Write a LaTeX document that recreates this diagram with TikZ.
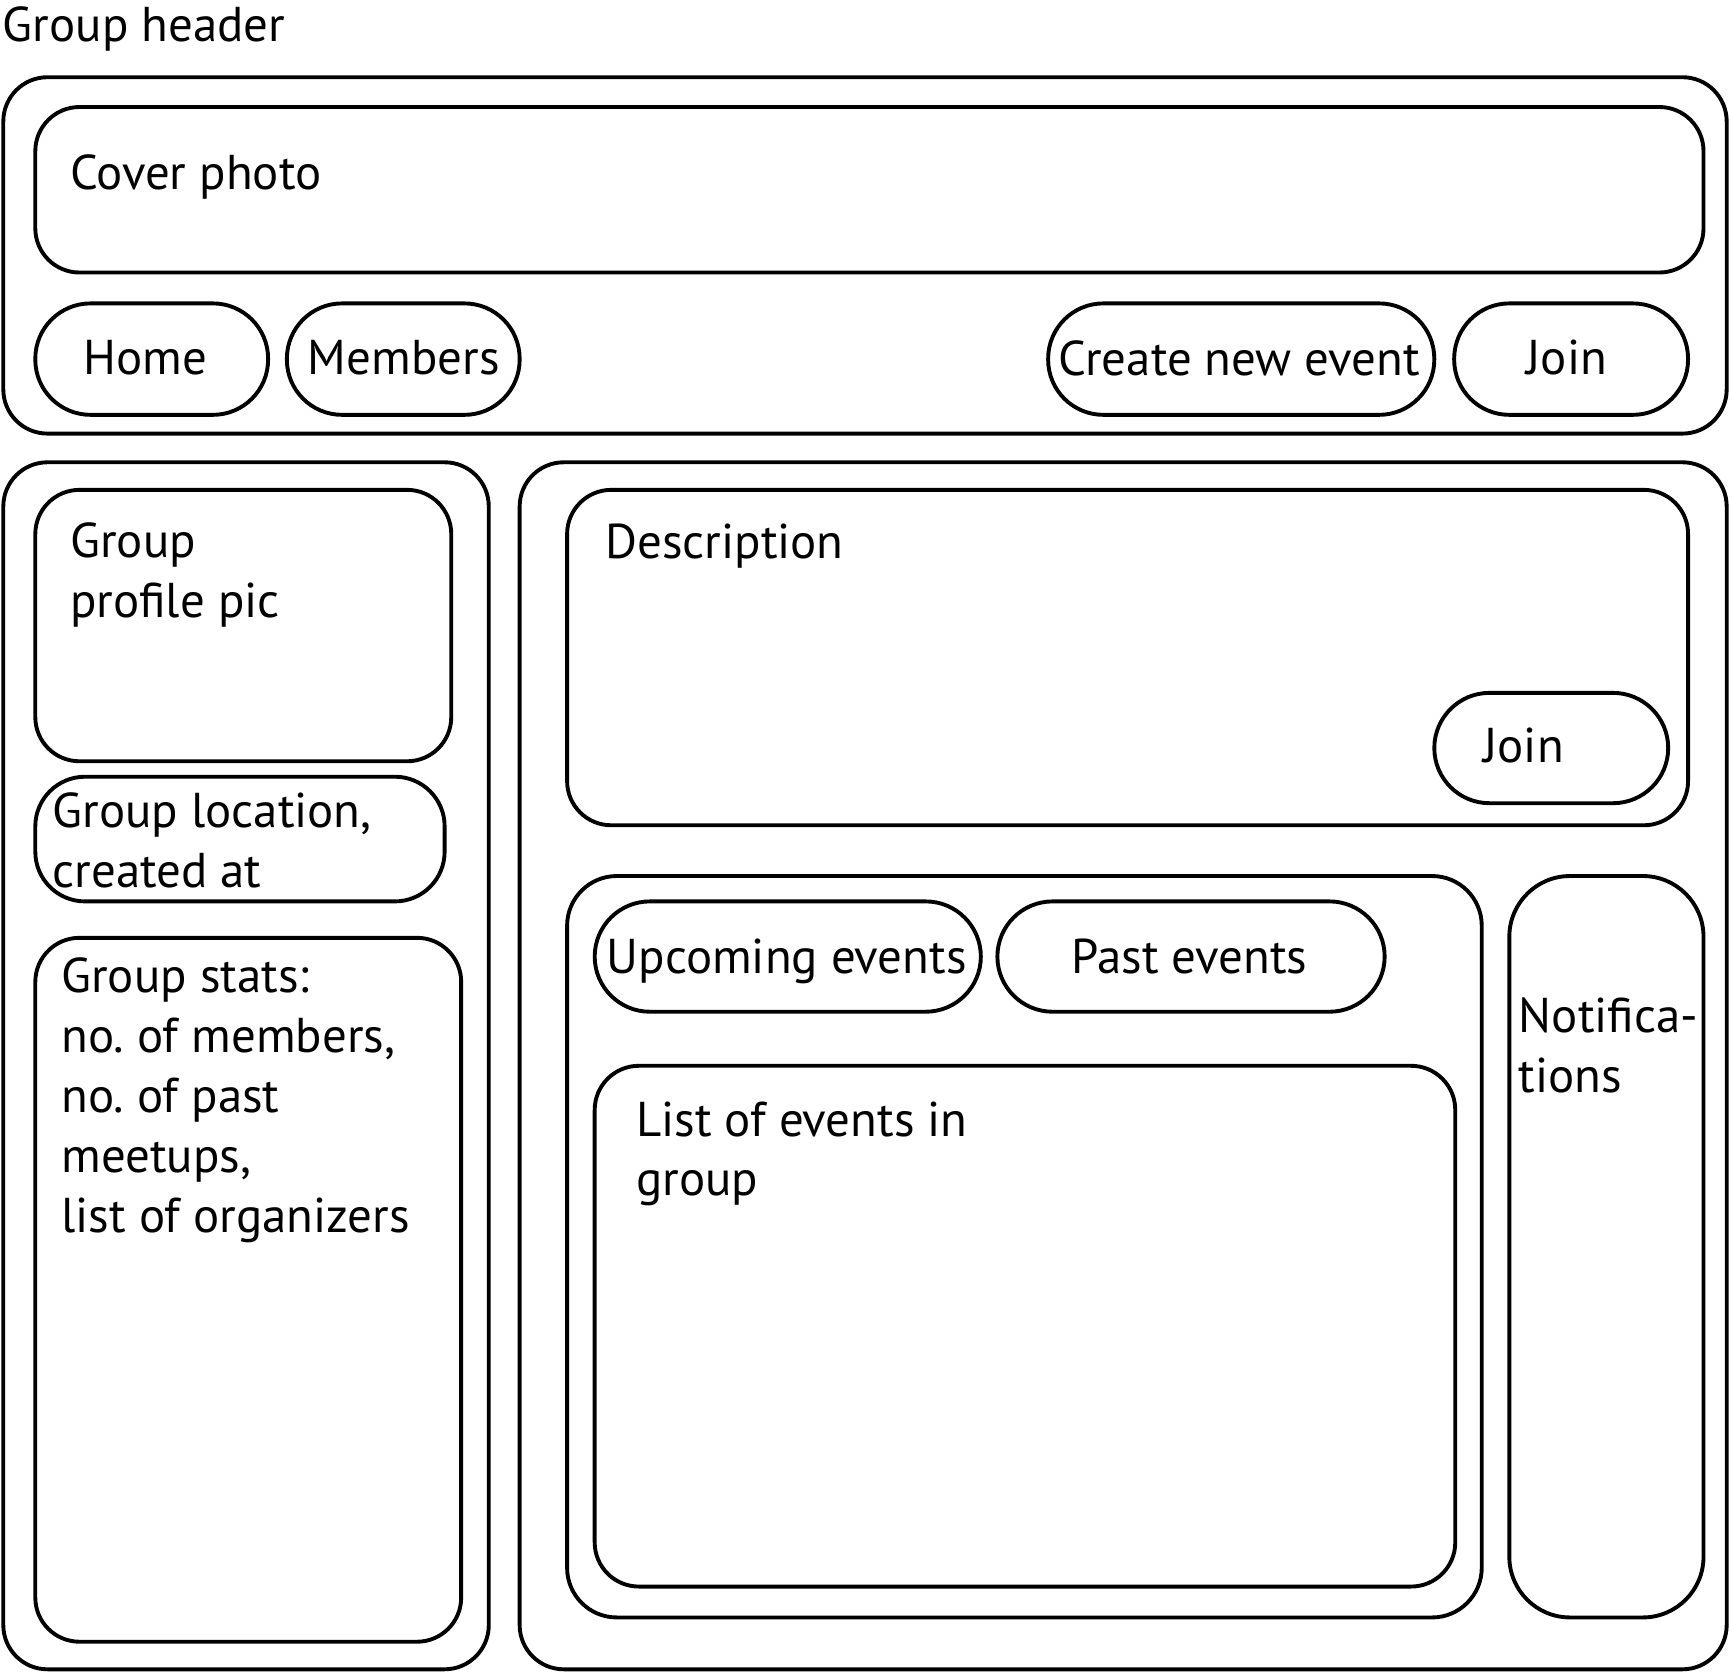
\documentclass[tikz,border=0pt]{standalone}
\usepackage{fontspec}
\setmainfont{PT Sans}
\begin{document}
\begin{tikzpicture}[x=0.01cm,y=-0.01cm,
    panel/.style={line width=1pt, rounded corners=0.4cm},
    pill/.style={line width=1pt, rounded corners=0.5cm},
    lbl/.style={inner sep=0pt, align=left, font=\fontsize{12.6}{15.45}\selectfont}]
\useasboundingbox (0,0) rectangle (1568,1515.5);

\node[lbl, anchor=base west] (title) at (2,38) {Group header};

% header bar
\draw[panel] (3,70) rectangle (1565,393);
\draw[panel] (32,97) rectangle (1544,247);
\node[lbl, anchor=base west] (cover) at (63,172) {Cover photo};

\draw[pill] (32,275) rectangle (243,376);
\draw[pill] (260,275) rectangle (471,376);
\draw[pill] (950,275) rectangle (1300,376);
\draw[pill] (1318,275) rectangle (1530,376);
\node[lbl, anchor=base] (home) at (132,339) {Home};
\node[lbl, anchor=base] (members) at (366,339) {Members};
\node[lbl, anchor=base] (create) at (1123,340) {Create new event};
\node[lbl, anchor=base] (join) at (1420,339) {Join};

% left column (multi-line labels sit on their last line)
\draw[panel] (3,419) rectangle (443,1513);
\draw[panel] (32,444) rectangle (409,690);
\node[lbl, anchor=base west] (pic) at (63,560) {Group\\profile pic};
\draw[panel, rounded corners=0.45cm] (32,704) rectangle (403,817);
\node[lbl, anchor=base west] (location) at (47,804) {Group location,\\created at};
\draw[panel] (32,850) rectangle (418,1488);
\node[lbl, anchor=base west] (stats) at (55,1117) {Group stats:\\no.\ of members,\\no.\ of past\\meetups,\\list of organizers};

% right column
\draw[panel] (471,419) rectangle (1565,1513);
\draw[panel] (514,444) rectangle (1530,748);
\node[lbl, anchor=base west] (descr) at (548,506) {Description};
\draw[pill] (1300,628) rectangle (1512,728);
\node[lbl, anchor=base] (join2) at (1381,691) {Join};

\draw[panel, rounded corners=0.45cm] (514,794) rectangle (1343,1466);
\draw[pill] (539,817) rectangle (889,917);
\draw[pill] (904,817) rectangle (1255,917);
\node[lbl, anchor=base] (upcoming) at (713,882) {Upcoming events};
\node[lbl, anchor=base] (past) at (1078,882) {Past events};
\draw[panel] (539,966) rectangle (1319,1438);
\node[lbl, anchor=base west] (list) at (576,1084) {List of events in\\group};

\draw[panel, rounded corners=0.55cm] (1368,794) rectangle (1544,1466);
\node[lbl, anchor=base west] (notif) at (1376,990) {Notifica-\\tions};
\end{tikzpicture}
\end{document}
